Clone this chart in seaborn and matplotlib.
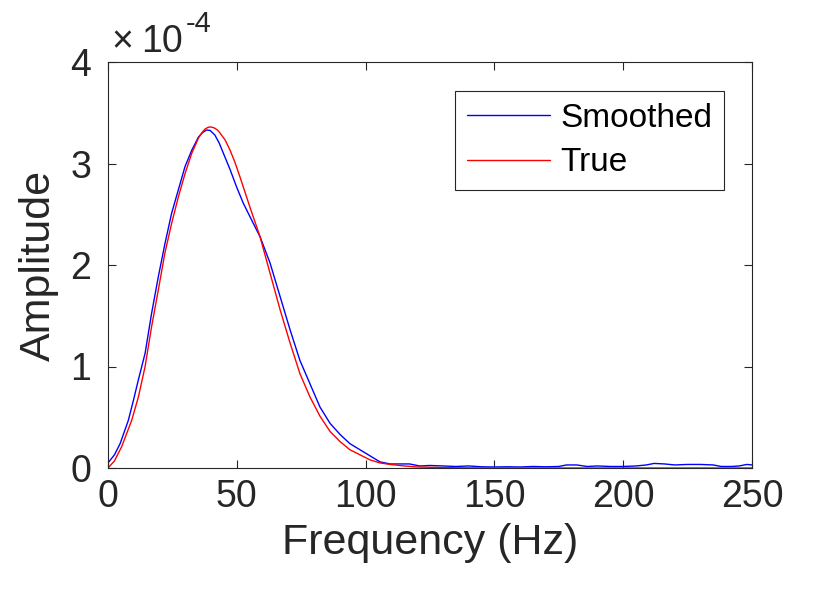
import matplotlib
matplotlib.use("Agg")
import matplotlib.pyplot as plt
import seaborn as sns
import pandas as pd

# ---- data (amplitude in units of 1e-4) ----
smoothed_freq = [0, 2.5, 4.7, 7.9, 10, 11.8, 14.4, 16.9, 19.5, 22.1, 24.7, 27.3, 29.9,
                 32.5, 35.1, 36.7, 38.3, 39.7, 41.5, 43.2, 44.8, 47.4, 49.9, 52.5, 56.4, 59.0, 62.9, 66.8,
                 70.7, 74.5, 78.4, 82.3, 86.2, 90.1, 93.9, 97.8, 101.7, 105.6, 109.5,
                 113, 117, 121, 125, 130, 135, 140, 145, 150, 155, 160, 165, 170, 175,
                 178, 182, 186, 190, 195, 200, 205, 209, 212, 216, 220, 225, 230, 235,
                 238, 242, 245, 248, 250]
smoothed_amp = [0.05, 0.13, 0.24, 0.47, 0.68, 0.87, 1.13, 1.52, 1.88, 2.21, 2.51, 2.74, 2.97,
                3.13, 3.26, 3.305, 3.33, 3.325, 3.28, 3.20, 3.10, 2.94, 2.77, 2.61, 2.41, 2.28, 2.02, 1.69,
                1.36, 1.06, 0.83, 0.60, 0.44, 0.33, 0.24, 0.18, 0.12, 0.06, 0.04,
                0.04, 0.04, 0.02, 0.025, 0.02, 0.015, 0.02, 0.012, 0.01, 0.012, 0.01, 0.015, 0.012, 0.015,
                0.03, 0.03, 0.015, 0.02, 0.015, 0.015, 0.02, 0.03, 0.045, 0.04, 0.03, 0.035, 0.035, 0.03,
                0.015, 0.015, 0.02, 0.035, 0.03]

true_freq = [0, 2.5, 5.3, 9.2, 11.8, 14.4, 16.9, 19.5, 22.1, 24.7, 27.3, 29.9, 32.5,
             35.1, 36.5, 37.7, 38.9, 40.0, 41.3, 42.5, 43.5, 45.5, 47.4, 49.3, 51.2, 55.1, 59.0,
             62.9, 66.8, 70.7, 74.5, 78.4, 82.3, 86.2, 90.1, 93.9, 97.8, 101.7, 105.6,
             109.5, 115, 120, 130, 140, 160, 250]
true_amp = [0.0, 0.07, 0.21, 0.47, 0.70, 1.0, 1.39, 1.75, 2.12, 2.41, 2.67, 2.90, 3.10,
            3.25, 3.305, 3.34, 3.357, 3.36, 3.35, 3.33, 3.30, 3.23, 3.13, 3.01, 2.87, 2.57, 2.28,
            1.92, 1.56, 1.23, 0.93, 0.70, 0.51, 0.36, 0.26, 0.18, 0.13, 0.08, 0.05,
            0.035, 0.02, 0.01, 0.004, 0.001, 0.0, 0.0]

x_ticks = [0, 50, 100, 150, 200, 250]
y_ticks = [0, 1, 2, 3, 4]
series_labels = ["Smoothed", "True"]
series_colors = ["#0000ff", "#ff0000"]

sns.set_style("ticks")
plt.rcParams["font.family"] = ["Liberation Sans", "DejaVu Sans"]

TXT = "#262626"
fig = plt.figure(figsize=(8.3, 5.91), dpi=100)
ax = fig.add_axes([108/830, 1-468/591, (752-108)/830, (468-62)/591])

df = pd.concat([
    pd.DataFrame({"Frequency": smoothed_freq, "Amplitude": smoothed_amp, "Series": series_labels[0]}),
    pd.DataFrame({"Frequency": true_freq, "Amplitude": true_amp, "Series": series_labels[1]}),
])
for lab, col in zip(series_labels, series_colors):
    sub = df[df["Series"] == lab]
    sns.lineplot(data=sub, x="Frequency", y="Amplitude", ax=ax, color=col,
                 linewidth=1.0, label=lab, sort=False, estimator=None)

ax.set_xlim(0, 250)
ax.set_ylim(0, 4)
ax.set_xticks(x_ticks)
ax.set_yticks(y_ticks)
ax.set_xticklabels([str(t) for t in x_ticks])
ax.set_yticklabels([str(t) for t in y_ticks])
ax.tick_params(direction="in", length=6, width=0.8, colors=TXT, labelsize=27,
               top=True, right=True)
ax.tick_params(axis="x", pad=8)
ax.tick_params(axis="y", pad=12)
for s in ax.spines.values():
    s.set_visible(True)
    s.set_color(TXT)
    s.set_linewidth(0.8)
ax.set_xlabel("Frequency (Hz)", fontsize=31, color=TXT, labelpad=6)
ax.set_ylabel("Amplitude", fontsize=31, color=TXT, labelpad=8)

fig.text(111/830, 1-52/591, "\u00d7", fontsize=27, color=TXT, ha="left", va="baseline")
fig.text(141/830, 1-52/591, "10", fontsize=27, color=TXT, ha="left", va="baseline")
fig.text(186/830, 1-32/591, "-4", fontsize=21, color=TXT, ha="left", va="baseline")

leg = ax.legend(loc="upper right", bbox_to_anchor=((724-108)/644, (468-91)/406),
                borderaxespad=0, fontsize=24, frameon=True, fancybox=False,
                handlelength=2.5, handletextpad=0.3, labelspacing=0.40, borderpad=0.36)
leg.get_frame().set_edgecolor(TXT)
leg.get_frame().set_linewidth(0.8)
leg.get_frame().set_alpha(1)
for t in leg.get_texts():
    t.set_color("black")

fig.savefig("out.png", dpi=100, facecolor="white")
